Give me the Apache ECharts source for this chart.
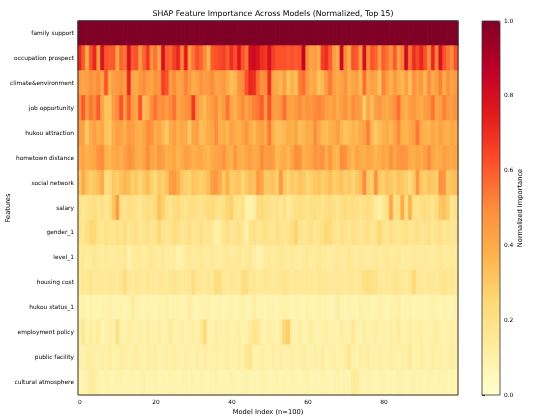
<!DOCTYPE html>
<html>
<head>
<meta charset="utf-8">
<script src="https://cdn.jsdelivr.net/npm/echarts@6/dist/echarts.min.js"></script>
<style>
  html, body { margin: 0; padding: 0; background: #fff; }
  #chart { width: 550px; height: 420px; }
</style>
</head>
<body>
<div id="chart"></div>
<script>
// features, top to bottom
const features = [
  'family support', 'occupation prospect', 'climate&environment', 'job opportunity',
  'hukou attraction', 'hometown distance', 'social network', 'salary', 'gender_1',
  'level_1', 'housing cost', 'hukou status_1', 'employment policy', 'public facility',
  'cultural atmosphere'
];
const modelCount = 100;
const xTickLabels = ['0', '20', '40', '60', '80'];

// normalized importance per feature, 100 models each
const familySupport = [
  1, 1, 1, 1, 1, 1, 1, 1, 1, 1,
  1, 1, 1, 1, 1, 1, 1, 1, 1, 1,
  1, 1, 1, 1, 1, 1, 1, 1, 1, 1,
  1, 1, 1, 1, 1, 1, 1, 1, 1, 1,
  1, 1, 1, 1, 1, 1, 1, 1, 1, 1,
  1, 1, 1, 1, 1, 1, 1, 1, 1, 1,
  1, 1, 1, 1, 1, 1, 1, 1, 1, 1,
  1, 1, 1, 1, 1, 1, 1, 1, 1, 1,
  1, 1, 1, 1, 1, 1, 1, 1, 1, 1,
  1, 1, 1, 1, 1, 1, 1, 1, 1, 1
];
const occupationProspect = [
  0.72, 0.6, 0.38, 0.62, 0.72, 0.45, 0.78, 0.62, 0.6, 0.6,
  0.42, 0.58, 0.55, 0.8, 0.6, 0.62, 0.45, 0.58, 0.68, 0.5,
  0.55, 0.42, 0.8, 0.6, 0.58, 0.66, 0.72, 0.52, 0.75, 0.45,
  0.55, 0.62, 0.58, 0.5, 0.36, 0.6, 0.62, 0.64, 0.66, 0.6,
  0.7, 0.62, 0.76, 0.62, 0.55, 0.8, 0.82, 0.78, 0.7, 0.68,
  0.8, 0.66, 0.62, 0.62, 0.62, 0.6, 0.62, 0.6, 0.62, 0.85,
  0.5, 0.42, 0.45, 0.4, 0.66, 0.7, 0.6, 0.45, 0.4, 0.82,
  0.5, 0.4, 0.62, 0.6, 0.45, 0.8, 0.5, 0.62, 0.58, 0.45,
  0.6, 0.55, 0.48, 0.6, 0.45, 0.52, 0.82, 0.55, 0.7, 0.64,
  0.72, 0.62, 0.48, 0.72, 0.52, 0.78, 0.62, 0.55, 0.5, 0.62
];
const climateEnvironment = [
  0.45, 0.42, 0.44, 0.48, 0.45, 0.5, 0.42, 0.62, 0.38, 0.44,
  0.46, 0.48, 0.45, 0.72, 0.42, 0.4, 0.46, 0.5, 0.44, 0.42,
  0.48, 0.46, 0.66, 0.62, 0.45, 0.5, 0.42, 0.44, 0.52, 0.46,
  0.4, 0.42, 0.48, 0.44, 0.46, 0.5, 0.42, 0.44, 0.46, 0.4,
  0.34, 0.36, 0.48, 0.5, 0.62, 0.72, 0.7, 0.56, 0.48, 0.5,
  0.7, 0.42, 0.4, 0.36, 0.44, 0.32, 0.38, 0.34, 0.52, 0.56,
  0.46, 0.4, 0.42, 0.32, 0.36, 0.46, 0.54, 0.44, 0.4, 0.42,
  0.48, 0.38, 0.42, 0.44, 0.36, 0.56, 0.4, 0.44, 0.42, 0.32,
  0.52, 0.44, 0.38, 0.46, 0.4, 0.36, 0.44, 0.34, 0.48, 0.42,
  0.46, 0.36, 0.5, 0.4, 0.44, 0.52, 0.4, 0.48, 0.42, 0.46
];
const jobOpportunity = [
  0.5, 0.6, 0.45, 0.55, 0.5, 0.6, 0.42, 0.32, 0.32, 0.45,
  0.5, 0.62, 0.45, 0.6, 0.45, 0.42, 0.62, 0.35, 0.38, 0.5,
  0.55, 0.48, 0.5, 0.45, 0.5, 0.55, 0.42, 0.45, 0.48, 0.5,
  0.68, 0.45, 0.4, 0.35, 0.42, 0.45, 0.5, 0.4, 0.45, 0.55,
  0.42, 0.38, 0.45, 0.5, 0.42, 0.48, 0.52, 0.55, 0.6, 0.45,
  0.62, 0.45, 0.44, 0.48, 0.56, 0.44, 0.42, 0.46, 0.5, 0.44,
  0.48, 0.46, 0.5, 0.52, 0.5, 0.44, 0.42, 0.46, 0.4, 0.44,
  0.48, 0.42, 0.5, 0.46, 0.44, 0.3, 0.42, 0.34, 0.44, 0.46,
  0.42, 0.4, 0.44, 0.48, 0.56, 0.42, 0.38, 0.44, 0.46, 0.42,
  0.4, 0.44, 0.46, 0.55, 0.42, 0.44, 0.52, 0.46, 0.44, 0.48
];
const hukouAttraction = [
  0.45, 0.42, 0.3, 0.4, 0.44, 0.38, 0.42, 0.32, 0.3, 0.4,
  0.44, 0.42, 0.38, 0.46, 0.44, 0.4, 0.38, 0.42, 0.5, 0.48,
  0.4, 0.42, 0.36, 0.3, 0.4, 0.44, 0.38, 0.42, 0.4, 0.3,
  0.42, 0.44, 0.34, 0.36, 0.4, 0.42, 0.5, 0.38, 0.4, 0.36,
  0.44, 0.4, 0.38, 0.42, 0.46, 0.4, 0.36, 0.42, 0.44, 0.4,
  0.54, 0.38, 0.32, 0.34, 0.36, 0.4, 0.38, 0.42, 0.34, 0.36,
  0.4, 0.38, 0.5, 0.42, 0.36, 0.34, 0.38, 0.4, 0.44, 0.36,
  0.32, 0.34, 0.38, 0.36, 0.4, 0.42, 0.52, 0.36, 0.3, 0.34,
  0.38, 0.4, 0.36, 0.42, 0.5, 0.38, 0.36, 0.4, 0.44, 0.54,
  0.4, 0.38, 0.36, 0.42, 0.38, 0.44, 0.4, 0.38, 0.42, 0.4
];
const hometownDistance = [
  0.4, 0.42, 0.38, 0.4, 0.42, 0.48, 0.5, 0.38, 0.36, 0.4,
  0.42, 0.38, 0.44, 0.48, 0.46, 0.4, 0.38, 0.42, 0.5, 0.42,
  0.4, 0.46, 0.44, 0.38, 0.4, 0.42, 0.36, 0.4, 0.44, 0.42,
  0.38, 0.4, 0.42, 0.38, 0.36, 0.4, 0.42, 0.44, 0.48, 0.4,
  0.38, 0.46, 0.4, 0.38, 0.42, 0.44, 0.4, 0.42, 0.5, 0.44,
  0.46, 0.44, 0.36, 0.38, 0.4, 0.36, 0.42, 0.5, 0.48, 0.38,
  0.4, 0.42, 0.48, 0.46, 0.48, 0.4, 0.46, 0.38, 0.36, 0.5,
  0.48, 0.4, 0.36, 0.42, 0.4, 0.38, 0.42, 0.4, 0.36, 0.38,
  0.42, 0.4, 0.48, 0.42, 0.46, 0.48, 0.46, 0.4, 0.38, 0.42,
  0.4, 0.44, 0.5, 0.42, 0.38, 0.4, 0.44, 0.42, 0.4, 0.42
];
const socialNetwork = [
  0.3, 0.4, 0.32, 0.28, 0.3, 0.34, 0.4, 0.22, 0.24, 0.3,
  0.28, 0.32, 0.36, 0.34, 0.28, 0.3, 0.26, 0.3, 0.34, 0.28,
  0.24, 0.3, 0.28, 0.32, 0.44, 0.46, 0.4, 0.3, 0.28, 0.26,
  0.32, 0.3, 0.28, 0.3, 0.34, 0.44, 0.46, 0.4, 0.3, 0.38,
  0.28, 0.3, 0.32, 0.26, 0.3, 0.34, 0.32, 0.46, 0.42, 0.3,
  0.3, 0.32, 0.28, 0.46, 0.3, 0.26, 0.3, 0.28, 0.32, 0.3,
  0.26, 0.28, 0.3, 0.32, 0.28, 0.3, 0.34, 0.28, 0.3, 0.32,
  0.28, 0.3, 0.26, 0.3, 0.34, 0.5, 0.3, 0.28, 0.48, 0.3,
  0.28, 0.32, 0.3, 0.28, 0.32, 0.3, 0.28, 0.24, 0.3, 0.46,
  0.3, 0.28, 0.32, 0.3, 0.28, 0.48, 0.46, 0.3, 0.32, 0.34
];
const salary = [
  0.2, 0.16, 0.18, 0.2, 0.22, 0.18, 0.2, 0.16, 0.2, 0.3,
  0.44, 0.2, 0.18, 0.22, 0.2, 0.18, 0.16, 0.2, 0.22, 0.2,
  0.24, 0.32, 0.28, 0.2, 0.18, 0.22, 0.24, 0.2, 0.18, 0.2,
  0.22, 0.2, 0.18, 0.2, 0.22, 0.24, 0.2, 0.18, 0.22, 0.26,
  0.28, 0.2, 0.18, 0.2, 0.1, 0.08, 0.12, 0.22, 0.24, 0.2,
  0.2, 0.18, 0.2, 0.16, 0.2, 0.14, 0.18, 0.2, 0.22, 0.2,
  0.18, 0.2, 0.22, 0.2, 0.18, 0.2, 0.22, 0.2, 0.18, 0.2,
  0.24, 0.2, 0.22, 0.2, 0.18, 0.2, 0.22, 0.2, 0.14, 0.1,
  0.16, 0.2, 0.42, 0.2, 0.22, 0.4, 0.2, 0.38, 0.2, 0.18,
  0.2, 0.22, 0.2, 0.18, 0.22, 0.3, 0.32, 0.28, 0.16, 0.2
];
const gender1 = [
  0.18, 0.16, 0.2, 0.25, 0.24, 0.18, 0.16, 0.2, 0.18, 0.16,
  0.2, 0.18, 0.22, 0.16, 0.18, 0.2, 0.16, 0.18, 0.2, 0.16,
  0.18, 0.25, 0.18, 0.16, 0.18, 0.22, 0.2, 0.16, 0.18, 0.2,
  0.16, 0.18, 0.2, 0.16, 0.18, 0.16, 0.1, 0.12, 0.18, 0.2,
  0.16, 0.18, 0.2, 0.16, 0.1, 0.18, 0.2, 0.16, 0.18, 0.2,
  0.18, 0.16, 0.2, 0.18, 0.16, 0.18, 0.2, 0.27, 0.18, 0.16,
  0.18, 0.2, 0.16, 0.18, 0.2, 0.25, 0.24, 0.18, 0.16, 0.2,
  0.18, 0.16, 0.2, 0.18, 0.16, 0.18, 0.2, 0.16, 0.18, 0.25,
  0.18, 0.16, 0.2, 0.18, 0.16, 0.18, 0.2, 0.16, 0.18, 0.2,
  0.16, 0.18, 0.2, 0.16, 0.18, 0.2, 0.16, 0.18, 0.16, 0.18
];
const level1 = [
  0.14, 0.15, 0.13, 0.14, 0.16, 0.14, 0.12, 0.15, 0.14, 0.13,
  0.15, 0.14, 0.16, 0.08, 0.13, 0.14, 0.15, 0.13, 0.14, 0.16,
  0.14, 0.13, 0.15, 0.14, 0.12, 0.14, 0.08, 0.09, 0.14, 0.15,
  0.13, 0.14, 0.16, 0.14, 0.13, 0.15, 0.14, 0.12, 0.14, 0.15,
  0.13, 0.14, 0.15, 0.13, 0.14, 0.16, 0.12, 0.08, 0.09, 0.14,
  0.15, 0.13, 0.14, 0.16, 0.14, 0.13, 0.15, 0.14, 0.12, 0.14,
  0.15, 0.13, 0.14, 0.16, 0.14, 0.13, 0.12, 0.14, 0.15, 0.13,
  0.14, 0.16, 0.14, 0.13, 0.15, 0.14, 0.12, 0.14, 0.15, 0.13,
  0.14, 0.16, 0.13, 0.14, 0.15, 0.12, 0.14, 0.13, 0.15, 0.14,
  0.13, 0.15, 0.14, 0.12, 0.14, 0.16, 0.13, 0.14, 0.15, 0.14
];
const housingCost = [
  0.14, 0.16, 0.15, 0.18, 0.14, 0.16, 0.15, 0.14, 0.16, 0.15,
  0.14, 0.16, 0.22, 0.15, 0.14, 0.16, 0.15, 0.14, 0.17, 0.15,
  0.14, 0.16, 0.15, 0.14, 0.16, 0.18, 0.15, 0.14, 0.16, 0.15,
  0.22, 0.16, 0.15, 0.14, 0.16, 0.15, 0.22, 0.21, 0.15, 0.14,
  0.16, 0.15, 0.14, 0.22, 0.21, 0.15, 0.16, 0.14, 0.15, 0.16,
  0.15, 0.14, 0.16, 0.15, 0.18, 0.15, 0.14, 0.16, 0.15, 0.14,
  0.16, 0.15, 0.14, 0.18, 0.15, 0.16, 0.14, 0.15, 0.16, 0.15,
  0.14, 0.16, 0.15, 0.14, 0.16, 0.2, 0.21, 0.2, 0.19, 0.15,
  0.14, 0.16, 0.15, 0.18, 0.16, 0.15, 0.14, 0.16, 0.25, 0.16,
  0.15, 0.14, 0.16, 0.15, 0.14, 0.16, 0.18, 0.15, 0.16, 0.15
];
const hukouStatus1 = [
  0.08, 0.09, 0.07, 0.1, 0.08, 0.07, 0.09, 0.08, 0.1, 0.07,
  0.08, 0.09, 0.07, 0.08, 0.13, 0.09, 0.08, 0.07, 0.09, 0.08,
  0.07, 0.09, 0.08, 0.1, 0.07, 0.08, 0.09, 0.07, 0.08, 0.12,
  0.08, 0.07, 0.09, 0.08, 0.1, 0.07, 0.08, 0.09, 0.07, 0.08,
  0.09, 0.07, 0.08, 0.1, 0.08, 0.07, 0.12, 0.08, 0.09, 0.07,
  0.08, 0.09, 0.07, 0.08, 0.1, 0.08, 0.07, 0.09, 0.08, 0.07,
  0.09, 0.08, 0.07, 0.1, 0.08, 0.09, 0.07, 0.08, 0.12, 0.08,
  0.07, 0.09, 0.08, 0.07, 0.1, 0.08, 0.09, 0.07, 0.08, 0.1,
  0.08, 0.07, 0.09, 0.08, 0.12, 0.07, 0.08, 0.09, 0.07, 0.08,
  0.09, 0.07, 0.08, 0.1, 0.08, 0.07, 0.09, 0.08, 0.07, 0.09
];
const employmentPolicy = [
  0.1, 0.16, 0.08, 0.12, 0.1, 0.14, 0.08, 0.1, 0.12, 0.09,
  0.2, 0.1, 0.08, 0.12, 0.1, 0.09, 0.11, 0.08, 0.12, 0.1,
  0.09, 0.12, 0.08, 0.1, 0.14, 0.09, 0.1, 0.12, 0.08, 0.1,
  0.12, 0.09, 0.14, 0.24, 0.1, 0.08, 0.12, 0.1, 0.09, 0.11,
  0.08, 0.1, 0.12, 0.09, 0.1, 0.14, 0.18, 0.16, 0.1, 0.09,
  0.12, 0.1, 0.08, 0.14, 0.26, 0.28, 0.1, 0.09, 0.12, 0.08,
  0.1, 0.12, 0.09, 0.08, 0.1, 0.12, 0.09, 0.1, 0.08, 0.12,
  0.1, 0.09, 0.16, 0.1, 0.08, 0.12, 0.09, 0.1, 0.12, 0.08,
  0.1, 0.09, 0.12, 0.1, 0.14, 0.08, 0.1, 0.12, 0.09, 0.1,
  0.12, 0.08, 0.1, 0.09, 0.12, 0.1, 0.08, 0.1, 0.12, 0.09
];
const publicFacility = [
  0.1, 0.09, 0.11, 0.12, 0.1, 0.09, 0.11, 0.1, 0.12, 0.09,
  0.1, 0.13, 0.11, 0.09, 0.1, 0.12, 0.1, 0.09, 0.11, 0.1,
  0.12, 0.09, 0.1, 0.11, 0.09, 0.12, 0.1, 0.09, 0.11, 0.1,
  0.09, 0.11, 0.1, 0.12, 0.09, 0.1, 0.11, 0.09, 0.1, 0.12,
  0.1, 0.09, 0.11, 0.1, 0.17, 0.18, 0.1, 0.09, 0.11, 0.1,
  0.09, 0.11, 0.1, 0.12, 0.09, 0.1, 0.11, 0.09, 0.1, 0.12,
  0.1, 0.09, 0.11, 0.1, 0.12, 0.09, 0.1, 0.11, 0.09, 0.1,
  0.11, 0.16, 0.1, 0.09, 0.11, 0.1, 0.12, 0.09, 0.1, 0.11,
  0.09, 0.1, 0.12, 0.1, 0.09, 0.11, 0.1, 0.15, 0.09, 0.1,
  0.11, 0.1, 0.09, 0.12, 0.1, 0.11, 0.09, 0.1, 0.11, 0.1
];
const culturalAtmosphere = [
  0.07, 0.08, 0.09, 0.13, 0.12, 0.08, 0.07, 0.09, 0.08, 0.07,
  0.08, 0.09, 0.07, 0.08, 0.09, 0.07, 0.08, 0.1, 0.07, 0.08,
  0.09, 0.07, 0.08, 0.07, 0.09, 0.08, 0.07, 0.08, 0.09, 0.07,
  0.08, 0.07, 0.09, 0.08, 0.07, 0.08, 0.09, 0.07, 0.08, 0.07,
  0.09, 0.08, 0.07, 0.08, 0.09, 0.07, 0.08, 0.07, 0.09, 0.08,
  0.07, 0.08, 0.09, 0.07, 0.08, 0.07, 0.09, 0.08, 0.07, 0.08,
  0.09, 0.07, 0.08, 0.07, 0.09, 0.08, 0.07, 0.08, 0.09, 0.07,
  0.08, 0.07, 0.14, 0.13, 0.08, 0.07, 0.09, 0.08, 0.07, 0.08,
  0.09, 0.07, 0.08, 0.07, 0.09, 0.08, 0.07, 0.08, 0.09, 0.07,
  0.08, 0.07, 0.09, 0.08, 0.07, 0.08, 0.09, 0.07, 0.08, 0.07
];

const rows = [
  familySupport, occupationProspect, climateEnvironment, jobOpportunity,
  hukouAttraction, hometownDistance, socialNetwork, salary, gender1, level1,
  housingCost, hukouStatus1, employmentPolicy, publicFacility, culturalAtmosphere
];

// matplotlib YlOrRd
const ylOrRd = ['#ffffcc', '#ffeda0', '#fed976', '#feb24c', '#fd8d3c', '#fc4e2a', '#e31a1c', '#bd0026', '#800026'];

const modelIdx = [];
for (let i = 0; i < modelCount; i++) modelIdx.push(String(i));

// colour each cell the same way the colour bar interpolates, and give it a
// matching hairline border so neighbouring cells leave no seams
const heatData = [];
rows.forEach((vals, r) => {
  vals.forEach((v, c) => {
    const col = echarts.color.lerp(v, ylOrRd);
    heatData.push({
      value: [c, r, v],
      itemStyle: { color: col, borderColor: col, borderWidth: 0.6 }
    });
  });
});

const FONT = 'DejaVu Sans';
const chart = echarts.init(document.getElementById('chart'), null, { renderer: 'canvas' });

const showTick = (i) => xTickLabels.indexOf(String(i)) >= 0;

const option = {
  backgroundColor: '#fff',
  animation: false,
  textStyle: { fontFamily: FONT },
  title: {
    text: 'SHAP Feature Importance Across Models (Normalized, Top 15)',
    left: 268,
    top: 5,
    textAlign: 'center',
    textStyle: { fontFamily: FONT, fontSize: 7.8, fontWeight: 'normal', color: '#000' }
  },
  grid: [
    { left: 78, top: 21, width: 380, height: 374, containLabel: false, outerBoundsMode: 'none' },
    { left: 482, top: 21, width: 18, height: 374, containLabel: false, outerBoundsMode: 'none' }
  ],
  xAxis: [
    {
      type: 'category',
      gridIndex: 0,
      data: modelIdx,
      name: 'Model Index (n=100)',
      nameLocation: 'middle',
      nameGap: 14,
      nameMoveOverlap: false,
      nameTextStyle: { fontSize: 6.7, color: '#000' },
      axisLine: { show: false },
      splitLine: { show: false },
      axisTick: {
        alignWithLabel: true,
        length: 3,
        lineStyle: { color: '#000', width: 0.8 },
        interval: showTick
      },
      axisLabel: { fontSize: 5.9, color: '#000', margin: 4, interval: showTick }
    },
    {
      type: 'value',
      gridIndex: 1,
      min: 0,
      max: 1,
      show: false
    }
  ],
  yAxis: [
    {
      type: 'category',
      gridIndex: 0,
      data: features,
      inverse: true,
      name: 'Features',
      nameLocation: 'middle',
      nameGap: 66,
      nameRotate: 90,
      nameMoveOverlap: false,
      nameTextStyle: { fontSize: 6.7, color: '#000' },
      axisLine: { show: false },
      splitLine: { show: false },
      axisTick: { alignWithLabel: true, length: 3, lineStyle: { color: '#000', width: 0.8 } },
      axisLabel: { fontSize: 5.9, color: '#000', margin: 4, interval: 0 }
    },
    {
      type: 'value',
      gridIndex: 1,
      position: 'right',
      min: 0,
      max: 1,
      interval: 0.2,
      name: 'Normalized Importance',
      nameLocation: 'middle',
      nameGap: 17,
      nameRotate: 90,
      nameMoveOverlap: false,
      nameTextStyle: { fontSize: 6.7, color: '#000' },
      axisLine: { show: false },
      splitLine: { show: false },
      axisTick: { show: true, inside: false, length: 3, lineStyle: { color: '#000', width: 0.8 } },
      axisLabel: { fontSize: 5.9, color: '#000', margin: 4, formatter: (v) => v.toFixed(1) }
    }
  ],
  // colour bar only
  visualMap: {
    type: 'continuous',
    min: 0,
    max: 1,
    seriesIndex: 1,
    calculable: false,
    realtime: false,
    left: 482,
    top: 21,
    itemWidth: 18,
    itemHeight: 374,
    padding: 0,
    showLabel: false,
    hoverLink: false,
    inRange: { color: ylOrRd },
    textStyle: { color: 'transparent', fontSize: 1 }
  },
  graphic: [
    {
      type: 'rect',
      z: 100,
      silent: true,
      shape: { x: 78, y: 21, width: 380, height: 374 },
      style: { fill: 'none', stroke: '#333', lineWidth: 1 }
    },
    {
      type: 'rect',
      z: 100,
      silent: true,
      shape: { x: 482, y: 21, width: 18, height: 374 },
      style: { fill: 'none', stroke: '#333', lineWidth: 0.8 }
    }
  ],
  series: [
    {
      type: 'heatmap',
      xAxisIndex: 0,
      yAxisIndex: 0,
      data: heatData,
      emphasis: { disabled: true }
    },
    {
      type: 'line',
      xAxisIndex: 1,
      yAxisIndex: 1,
      data: [],
      silent: true
    }
  ]
};

chart.setOption(option);
</script>
</body>
</html>
